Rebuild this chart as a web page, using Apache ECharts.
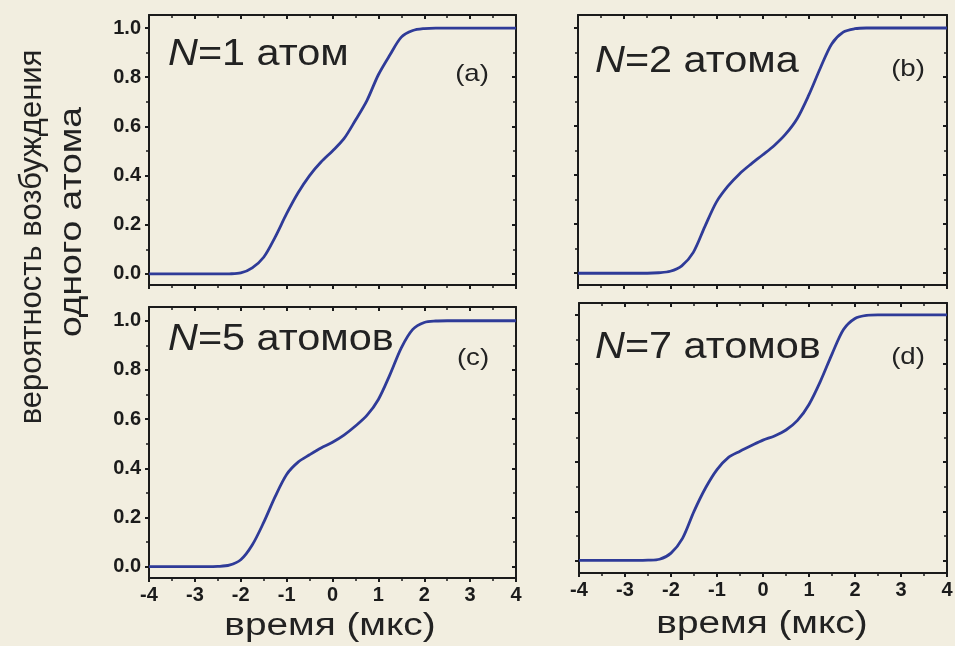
<!DOCTYPE html>
<html>
<head>
<meta charset="utf-8">
<script src="https://cdn.jsdelivr.net/npm/echarts@6/dist/echarts.min.js"></script>
<style>
html,body{margin:0;padding:0;background:#f2eee0;}
#chart{width:955px;height:646px;}
</style>
</head>
<body>
<div id="chart"></div>
<script>
// ---- data ----
const timeValues = [-4, -3.75, -3.5, -3.25, -3, -2.75, -2.5, -2.25, -2, -1.75, -1.5, -1.25, -1, -0.75, -0.5, -0.25, 0,
  0.25, 0.5, 0.75, 1, 1.25, 1.5, 1.75, 2, 2.25, 2.5, 2.75, 3, 3.25, 3.5, 3.75, 4];
const probA = [0, 0, 0, 0, 0, 0, 0, 0.0005, 0.004, 0.025, 0.068, 0.15, 0.245, 0.33, 0.40, 0.455, 0.50,
  0.55, 0.625, 0.705, 0.81, 0.89, 0.963, 0.99, 0.998, 1, 1, 1, 1, 1, 1, 1, 1];
const probB = [0, 0, 0, 0, 0, 0, 0, 0.002, 0.008, 0.03, 0.085, 0.19, 0.29, 0.355, 0.405, 0.445, 0.482,
  0.52, 0.567, 0.63, 0.725, 0.835, 0.935, 0.983, 0.997, 1, 1, 1, 1, 1, 1, 1, 1];
const probC = [0, 0, 0, 0, 0, 0, 0.001, 0.006, 0.028, 0.088, 0.18, 0.285, 0.375, 0.425, 0.455, 0.483, 0.506,
  0.535, 0.572, 0.615, 0.68, 0.78, 0.89, 0.965, 0.993, 0.999, 1, 1, 1, 1, 1, 1, 1];
const probD = [0, 0, 0, 0, 0, 0, 0.001, 0.005, 0.03, 0.09, 0.2, 0.295, 0.37, 0.42, 0.445, 0.468, 0.49,
  0.507, 0.531, 0.57, 0.635, 0.73, 0.84, 0.94, 0.985, 0.998, 1, 1, 1, 1, 1, 1, 1];
const atomCounts = ['1', '2', '5', '7'];
const atomWords = ['атом', 'атома', 'атомов', 'атомов'];
const panelLetters = ['(a)', '(b)', '(c)', '(d)'];
const yTickValues = [0, 0.2, 0.4, 0.6, 0.8, 1.0];
const yMinorTickValues = [0.1, 0.3, 0.5, 0.7, 0.9];
const xTickStep = 1;
const xAxisTitle = 'время (мкс)';
const yAxisTitleLines = ['вероятность возбуждения', 'одного атома'];
const seriesList = [probA, probB, probC, probD];

// ---- layout ----
const panels = [
  {grid: {left: 149, top: 15, width: 367, height: 270}, yRange: [-0.045, 1.053], yLabels: true, xLabels: false,
   text: [168, 68], letter: [472, 74]},
  {grid: {left: 578, top: 15, width: 369, height: 270}, yRange: [-0.048, 1.053], yLabels: false, xLabels: false,
   text: [595, 75], letter: [908, 69]},
  {grid: {left: 149, top: 307, width: 367, height: 271}, yRange: [-0.046, 1.056], yLabels: true, xLabels: true,
   text: [168, 353], letter: [473, 358]},
  {grid: {left: 579, top: 303, width: 368, height: 270}, yRange: [-0.051, 1.048], yLabels: false, xLabels: true,
   text: [595, 361], letter: [908, 357]}
];
const axisColor = '#1b1b1b';
const lineColor = '#2f3b98';
const tickFont = {fontFamily: '"Liberation Sans", Arial, sans-serif', fontWeight: 'bold', fontSize: 20, color: axisColor};
const textFont = '"Liberation Sans", Arial, sans-serif';

const grids = [], xAxes = [], yAxes = [], series = [], graphics = [];
panels.forEach((p, i) => {
  grids.push(Object.assign({containLabel: false, outerBoundsMode: 'none'}, p.grid));
  const xBase = {
    type: 'value', gridIndex: i, min: -4, max: 4, interval: xTickStep,
    splitLine: {show: false}, minorSplitLine: {show: false},
    axisLine: {show: true, onZero: false, lineStyle: {color: axisColor, width: 2}}
  };
  xAxes.push(Object.assign({}, xBase, {
    position: 'bottom',
    axisTick: {show: true, inside: false, length: 4, lineStyle: {color: axisColor, width: 2}},
    minorTick: {show: true, splitNumber: 2, length: 3, lineStyle: {color: axisColor, width: 1.5}},
    axisLabel: Object.assign({show: p.xLabels, margin: 7, formatter: v => String(v)}, tickFont)
  }));
  xAxes.push(Object.assign({}, xBase, {
    position: 'top',
    axisTick: {show: true, inside: true, length: 4, lineStyle: {color: axisColor, width: 2}},
    minorTick: {show: true, splitNumber: 2, length: 3, lineStyle: {color: axisColor, width: 1.5}},
    axisLabel: {show: false}
  }));
  const yBase = {type: 'value', gridIndex: i, min: p.yRange[0], max: p.yRange[1], splitLine: {show: false}};
  ['left', 'right'].forEach(side => {
    const inside = side === 'right';
    yAxes.push(Object.assign({}, yBase, {
      position: side,
      axisLine: {show: true, onZero: false, lineStyle: {color: axisColor, width: 2}},
      axisTick: {show: true, inside: inside, length: 4, customValues: yTickValues, lineStyle: {color: axisColor, width: 2}},
      axisLabel: Object.assign({show: side === 'left' && p.yLabels, margin: 8, customValues: yTickValues,
        formatter: v => v.toFixed(1)}, tickFont)
    }));
    yAxes.push(Object.assign({}, yBase, {
      position: side,
      axisLine: {show: false, onZero: false},
      axisTick: {show: true, inside: inside, length: 3, customValues: yMinorTickValues, lineStyle: {color: axisColor, width: 1.5}},
      axisLabel: {show: false}
    }));
  });
  series.push({
    type: 'line', xAxisIndex: 2 * i, yAxisIndex: 4 * i,
    data: timeValues.map((t, k) => [t, seriesList[i][k]]),
    symbol: 'none', showSymbol: false, smooth: 0.3,
    lineStyle: {color: lineColor, width: 2.8}, silent: true
  });
  graphics.push({
    type: 'text', x: p.text[0], y: p.text[1] - 13, scaleX: 1.15,
    style: {
      text: '{n|N}{r|=' + atomCounts[i] + ' ' + atomWords[i] + '}',
      verticalAlign: 'middle', align: 'left', fill: '#222',
      rich: {
        n: {fontStyle: 'italic', fontSize: 36, fontFamily: textFont, fill: '#222'},
        r: {fontSize: 36, fontFamily: textFont, fill: '#222'}
      }
    }
  });
  graphics.push({
    type: 'text', x: p.letter[0], y: p.letter[1], scaleX: 1.15,
    style: {text: panelLetters[i], font: '24px ' + textFont, fill: '#222', align: 'center', verticalAlign: 'middle'}
  });
});
// axis titles
[[330, 626], [762, 624]].forEach(pos => {
  graphics.push({
    type: 'text', x: pos[0], y: pos[1], scaleX: 1.25,
    style: {text: xAxisTitle, font: '31px ' + textFont, fill: '#222', align: 'center', verticalAlign: 'middle'}
  });
});
[[32, 237, 1.0], [72, 222, 1.2]].forEach((pos, k) => {
  graphics.push({
    type: 'text', x: pos[0], y: pos[1], rotation: Math.PI / 2, scaleX: pos[2],
    style: {text: yAxisTitleLines[k], font: '31px ' + textFont, fill: '#222', align: 'center', verticalAlign: 'middle'}
  });
});

const chart = echarts.init(document.getElementById('chart'), null, {renderer: 'canvas'});
chart.setOption({
  backgroundColor: '#f2eee0',
  animation: false,
  grid: grids, xAxis: xAxes, yAxis: yAxes, series: series, graphic: graphics
});
</script>
</body>
</html>
